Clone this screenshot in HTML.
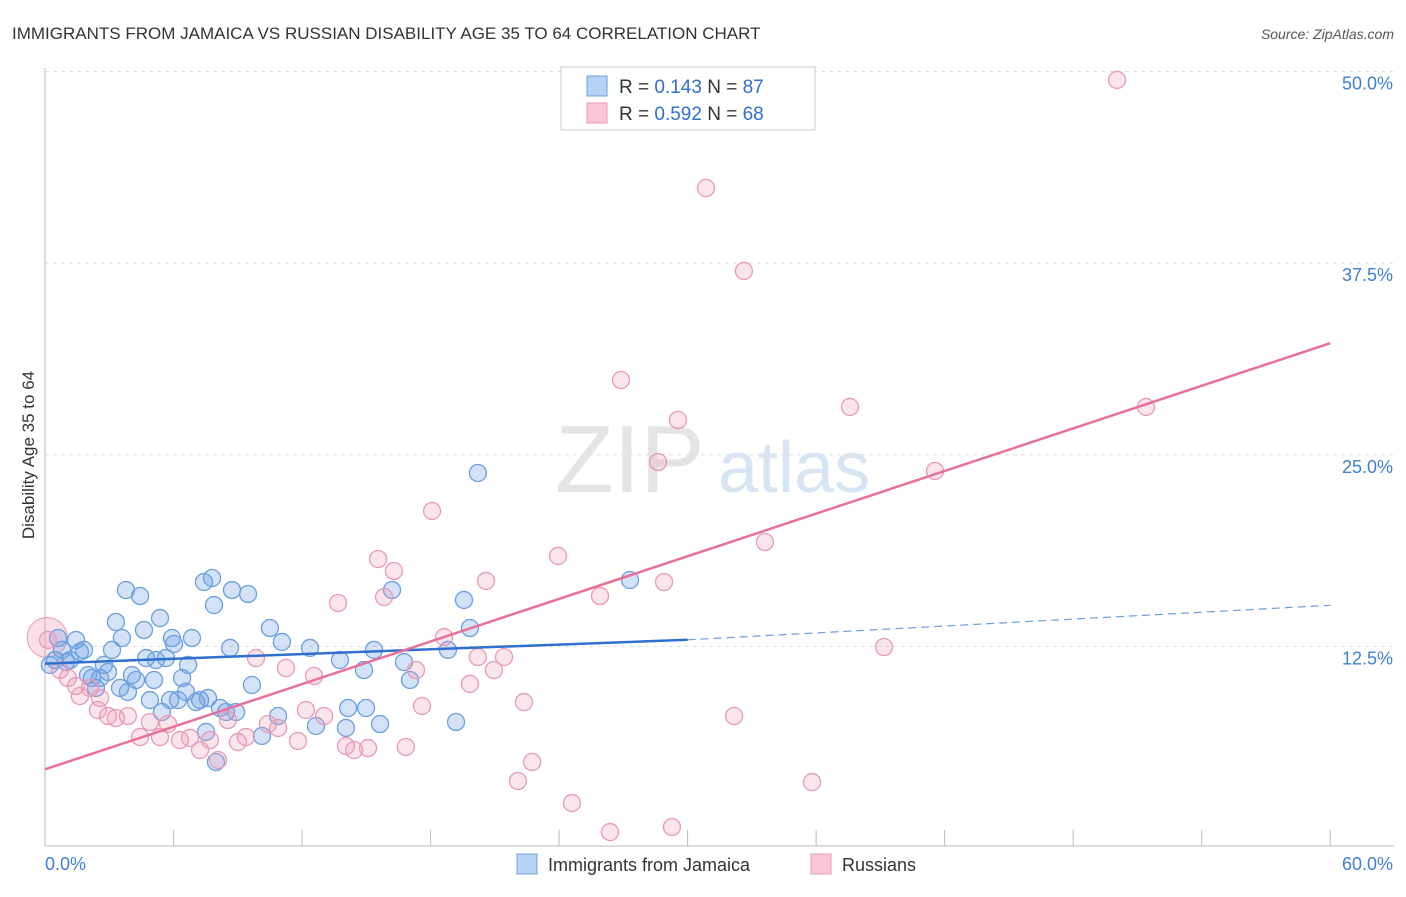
<!DOCTYPE html>
<html><head><meta charset="utf-8"><style>
body{margin:0;background:#fff;font-family:"Liberation Sans",sans-serif}
svg text{font-family:"Liberation Sans",sans-serif}
</style></head><body>
<svg width="1406" height="892" viewBox="0 0 1406 892" xmlns="http://www.w3.org/2000/svg">
<text x="12" y="39" font-size="17" fill="#333">IMMIGRANTS FROM JAMAICA VS RUSSIAN DISABILITY AGE 35 TO 64 CORRELATION CHART</text>
<text x="1394" y="39" font-size="14" fill="#555" font-style="italic" text-anchor="end">Source: ZipAtlas.com</text>
<g id="grid"></g>
<g id="axes"></g>
<text x="555" y="492" font-size="96" fill="#e4e4e4" font-family="Liberation Serif">ZIP</text>
<text x="718" y="492" font-size="72" fill="#d6e4f4">atlas</text>
<g id="pts"></g>
<g id="trends"></g>
<text transform="translate(34,455) rotate(-90)" font-size="17" fill="#333" text-anchor="middle">Disability Age 35 to 64</text>
<g>
<rect x="561" y="67" width="254" height="63" fill="#fff" stroke="#ccc"/>
<rect x="587" y="76" width="20" height="20" fill="#b8d2f4" stroke="#6a9fe0"/>
<rect x="587" y="103" width="20" height="20" fill="#f8c6d6" stroke="#e89ab5"/>
<text x="619" y="93" font-size="19" fill="#333">R = <tspan fill="#2f6fce">0.143</tspan>   N = <tspan fill="#2f6fce">87</tspan></text>
<text x="619" y="120" font-size="19" fill="#333">R = <tspan fill="#2f6fce">0.592</tspan>   N = <tspan fill="#2f6fce">68</tspan></text>
</g>
<g>
<rect x="517" y="854" width="20" height="20" fill="#b8d2f4" stroke="#6a9fe0"/>
<text x="548" y="871" font-size="18" fill="#333">Immigrants from Jamaica</text>
<rect x="811" y="854" width="20" height="20" fill="#f8c6d6" stroke="#e89ab5"/>
<text x="842" y="871" font-size="18" fill="#333">Russians</text>
</g>
</svg>
<script>
const yTicks=[12.5,25,37.5,50];
const yTickLabels=["12.5%","25.0%","37.5%","50.0%"];
const xTickLabels=["0.0%","60.0%"];
const blueX=[0.23,0.47,0.61,0.79,0.98,1.17,1.45,1.63,1.82,2.01,2.19,2.38,2.57,2.75,2.94,3.13,3.31,3.50,3.59,3.78,3.87,4.06,4.25,4.44,4.62,4.72,4.90,5.09,5.18,5.37,5.46,5.65,5.84,5.93,6.02,6.21,6.40,6.58,6.68,6.86,7.05,7.24,7.42,7.52,7.61,7.80,7.89,7.98,8.17,8.45,8.64,8.73,8.92,9.48,9.66,10.13,10.50,10.88,11.06,12.37,12.65,13.77,14.05,14.15,14.89,14.99,15.36,15.64,16.20,16.76,17.04,18.81,19.19,19.56,19.84,20.21,27.31];
const blueY=[11.81,12.13,13.57,12.79,12.00,12.13,13.44,12.66,12.79,11.15,10.96,10.31,10.96,11.81,11.35,12.79,14.61,10.31,13.57,16.70,10.05,11.15,10.83,16.31,14.09,12.26,9.52,10.83,12.13,14.87,8.74,12.26,9.52,13.57,13.18,9.52,10.96,10.05,11.81,13.57,9.39,9.52,17.22,7.44,9.65,17.48,15.72,5.48,9.00,8.74,12.92,16.70,8.74,16.44,10.50,7.18,14.22,8.48,13.31,12.92,7.83,12.13,7.70,9.00,11.48,9.00,12.79,7.96,16.70,12.00,10.83,12.79,8.09,16.05,14.22,24.33,17.35];
const pinkX=[50.05,30.86,32.63,26.89,37.58,51.40,29.55,28.62,41.55,18.07,23.95,33.61,15.55,16.29,20.59,28.90,15.83,25.91,13.68,18.63,39.17,20.21,21.43,9.85,11.25,17.32,12.56,20.96,19.84,22.36,17.60,0.70,1.07,1.63,2.10,2.47,2.94,3.31,3.87,4.44,4.90,5.37,5.74,6.30,6.77,7.24,7.70,8.08,8.54,9.01,9.38,10.41,10.88,11.81,12.18,13.03,14.05,14.43,15.08,16.85,22.08,22.74,24.60,26.38,29.27,32.17,35.81,0.14,2.57,1.45];
const pinkY=[49.97,42.92,37.51,30.40,28.64,28.64,27.79,25.05,24.46,21.85,18.92,19.83,18.72,17.94,17.29,17.22,16.24,16.31,15.85,13.63,12.98,12.33,12.33,12.26,11.61,11.48,11.09,11.48,10.57,9.39,9.13,11.48,10.96,9.78,10.31,8.87,8.48,8.35,8.48,7.11,8.09,7.11,7.96,6.91,7.05,6.26,6.91,5.61,8.22,6.78,7.11,7.96,7.70,6.85,8.87,8.48,6.52,6.26,6.39,6.46,4.24,5.48,2.80,0.91,1.24,8.48,4.17,13.44,9.65,10.44];
const blueTrend=[[0,11.9],[30,13.45],[60,15.7]];
const pinkTrend=[[0,5.0],[60,32.8]];
const NS="http://www.w3.org/2000/svg";
const xs=v=>45+v*21.42, ys=v=>846-v*15.33;
function mk(t,a,p){const e=document.createElementNS(NS,t);for(const k in a)e.setAttribute(k,a[k]);document.getElementById(p).appendChild(e);return e;}
yTicks.forEach((t,i)=>{
 const l=mk('line',{x1:45,x2:1394,y1:ys(t)-8,y2:ys(t)-8,stroke:'#ddd','stroke-dasharray':'4,4'},'grid');
 
 
 const tx=mk('text',{x:1393,y:ys(t)+10,'font-size':18,fill:'#3f7fd6','text-anchor':'end'},'axes');tx.textContent=yTickLabels[i];
 
 
});
const ax=mk('line',{x1:45,x2:45,y1:68,y2:846,stroke:'#bbb'},'axes');


const bx=mk('line',{x1:45,x2:1394,y1:846,y2:846,stroke:'#bbb'},'axes');


for(let i=0;i<=10;i++){const t=mk('line',{x1:xs(i*6),x2:xs(i*6),y1:830,y2:846,stroke:'#bbb'},'axes');
 
 }
[[0,45,'start'],[60,1393,'end']].forEach((d,i)=>{const t=mk('text',{x:d[1],y:870,'font-size':18,fill:'#3f7fd6','text-anchor':d[2]},'axes');t.textContent=xTickLabels[i];
 
 });
const big=mk('circle',{cx:xs(0.1),cy:ys(13.6),r:20,fill:'rgba(240,150,180,0.3)',stroke:'#e89ab5'},'pts');


blueX.forEach((x,i)=>{const c=mk('circle',{cx:xs(x),cy:ys(blueY[i]),r:8.5,fill:'rgba(110,160,230,0.3)',stroke:'#6a9fe0','stroke-width':1.3},'pts');
 
 });
pinkX.forEach((x,i)=>{const c=mk('circle',{cx:xs(x),cy:ys(pinkY[i]),r:8.5,fill:'rgba(240,150,180,0.25)',stroke:'#e89ab5','stroke-width':1.3},'pts');
 
 });
const b1=mk('line',{x1:xs(blueTrend[0][0]),y1:ys(blueTrend[0][1]),x2:xs(blueTrend[1][0]),y2:ys(blueTrend[1][1]),stroke:'#2f6fce','stroke-width':2.5},'trends');


const b2=mk('line',{x1:xs(blueTrend[1][0]),y1:ys(blueTrend[1][1]),x2:xs(blueTrend[2][0]),y2:ys(blueTrend[2][1]),stroke:'#6a9fe0','stroke-width':1.2,'stroke-dasharray':'8,5'},'trends');


const p1=mk('line',{x1:xs(pinkTrend[0][0]),y1:ys(pinkTrend[0][1]),x2:xs(pinkTrend[1][0]),y2:ys(pinkTrend[1][1]),stroke:'#e8709a','stroke-width':2.5},'trends');


</script>
</body></html>
